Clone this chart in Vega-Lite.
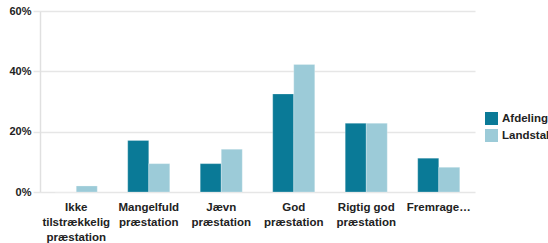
{
  "$schema": "https://vega.github.io/schema/vega-lite/v6.json",
  "autosize": {"type": "none"},
  "width": 435,
  "height": 181,
  "padding": {"left": 40, "top": 11, "right": 73, "bottom": 51},
  "background": "white",
  "config": {
    "view": {"stroke": null},
    "font": "Liberation Sans"
  },
  "data": {
    "values": [
      {"kategori": "Ikke tilstrækkelig præstation", "serie": "Afdeling", "andel": 0},
      {"kategori": "Ikke tilstrækkelig præstation", "serie": "Landstal", "andel": 0.02},
      {"kategori": "Mangelfuld præstation", "serie": "Afdeling", "andel": 0.171},
      {"kategori": "Mangelfuld præstation", "serie": "Landstal", "andel": 0.094},
      {"kategori": "Jævn præstation", "serie": "Afdeling", "andel": 0.094},
      {"kategori": "Jævn præstation", "serie": "Landstal", "andel": 0.142},
      {"kategori": "God præstation", "serie": "Afdeling", "andel": 0.325},
      {"kategori": "God præstation", "serie": "Landstal", "andel": 0.423},
      {"kategori": "Rigtig god præstation", "serie": "Afdeling", "andel": 0.228},
      {"kategori": "Rigtig god præstation", "serie": "Landstal", "andel": 0.228},
      {"kategori": "Fremragende præstation", "serie": "Afdeling", "andel": 0.112},
      {"kategori": "Fremragende præstation", "serie": "Landstal", "andel": 0.082}
    ]
  },
  "mark": {"type": "bar", "stroke": "#ffffff", "strokeOpacity": 0.25, "strokeWidth": 1},
  "encoding": {
    "x": {
      "field": "kategori",
      "type": "nominal",
      "sort": null,
      "title": null,
      "scale": {"paddingInner": 0.42, "paddingOuter": 0.21},
      "axis": {
        "domain": false,
        "ticks": false,
        "labelAngle": 0,
        "labelFont": "Liberation Sans",
        "labelFontSize": 11.5,
        "labelFontWeight": "bold",
        "labelColor": "#222222",
        "labelPadding": 9,
        "labelLineHeight": 15,
        "labelLimit": 200,
        "labelExpr": "datum.label == 'Ikke tilstrækkelig præstation' ? ['Ikke', 'tilstrækkelig', 'præstation'] : datum.label == 'Rigtig god præstation' ? ['Rigtig god', 'præstation'] : datum.label == 'Fremragende præstation' ? 'Fremrage…' : split(datum.label, ' ')"
      }
    },
    "xOffset": {"field": "serie", "type": "nominal"},
    "y": {
      "field": "andel",
      "type": "quantitative",
      "title": null,
      "scale": {"domain": [0, 0.6], "nice": false},
      "axis": {
        "values": [0, 0.2, 0.4, 0.6],
        "format": ".0%",
        "domain": true,
        "domainColor": "#e0e0e0",
        "domainWidth": 1.5,
        "grid": true,
        "gridColor": "#e6e6e6",
        "gridWidth": 1.5,
        "ticks": true,
        "tickSize": 7,
        "tickColor": "#e6e6e6",
        "tickWidth": 1.5,
        "labelFont": "Liberation Sans",
        "labelFontSize": 11,
        "labelFontWeight": "bold",
        "labelColor": "#222222",
        "labelPadding": 2
      }
    },
    "color": {
      "field": "serie",
      "type": "nominal",
      "scale": {"domain": ["Afdeling", "Landstal"], "range": ["#0a7a97", "#9ccbd8"]},
      "legend": {
        "title": null,
        "orient": "none",
        "legendX": 445,
        "legendY": 101,
        "symbolType": "square",
        "symbolSize": 169,
        "symbolStrokeWidth": 0,
        "labelFont": "Liberation Sans",
        "labelFontSize": 11.5,
        "labelFontWeight": "bold",
        "labelColor": "#222222",
        "labelOffset": 4,
        "rowPadding": 4
      }
    }
  }
}
